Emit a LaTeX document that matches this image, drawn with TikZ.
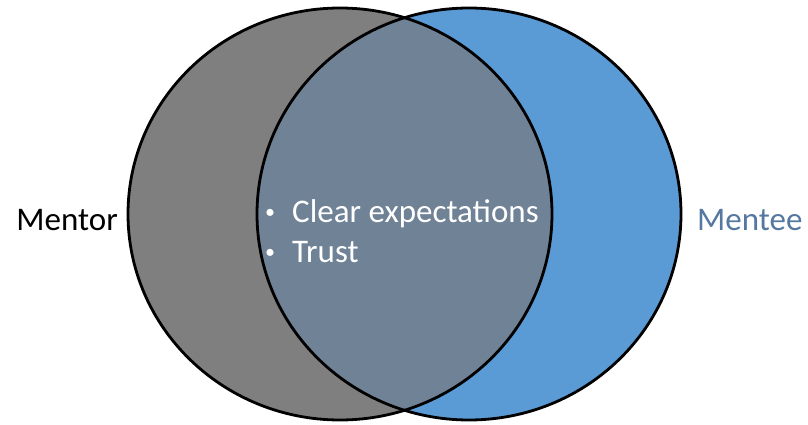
\documentclass[tikz,border=0pt]{standalone}
\usepackage{fontspec}
\setmainfont{Carlito}
\usetikzlibrary{positioning}
\definecolor{mentorgray}{RGB}{127,127,127}
\definecolor{menteeblue}{RGB}{91,155,213}
\definecolor{overlapgray}{RGB}{112,130,150}
\definecolor{menteetext}{RGB}{84,120,160}

\begin{document}
\begin{tikzpicture}[x=1pt, y=-1pt,
    venntext/.style={font=\fontsize{33}{40}\selectfont, inner sep=0pt},
    bullettext/.style={venntext, white, anchor=base west}]
    \useasboundingbox (0,0) rectangle (808,425);
    \coordinate (mentorc) at (340,214);
    \coordinate (menteec) at (469,214);
    \fill[mentorgray] (mentorc) ellipse [x radius=212, y radius=206];
    \fill[menteeblue] (menteec) ellipse [x radius=212, y radius=206];
    \begin{scope}
        \clip (mentorc) ellipse [x radius=212, y radius=206];
        \fill[overlapgray] (menteec) ellipse [x radius=212, y radius=206];
    \end{scope}
    \draw[line width=2.8pt] (mentorc) ellipse [x radius=212, y radius=206];
    \draw[line width=2.8pt] (menteec) ellipse [x radius=212, y radius=206];
    \coordinate (mentoredge) at (128,220);
    \coordinate (menteeedge) at (681,220);
    \node[venntext, left=10pt of mentoredge] (mentor) {Mentor};
    \node[venntext, menteetext, right=16pt of menteeedge] (mentee) {Mentee};
    \node[bullettext] (expect) at (265,222)
        {\makebox[27pt][l]{\raisebox{4pt}{\fontsize{20}{20}\selectfont\textbullet}}Clear expectations};
    \node[bullettext] (trust) at ([yshift=-40pt]expect.base west)
        {\makebox[27pt][l]{\raisebox{4pt}{\fontsize{20}{20}\selectfont\textbullet}}Trust};
\end{tikzpicture}
\end{document}
